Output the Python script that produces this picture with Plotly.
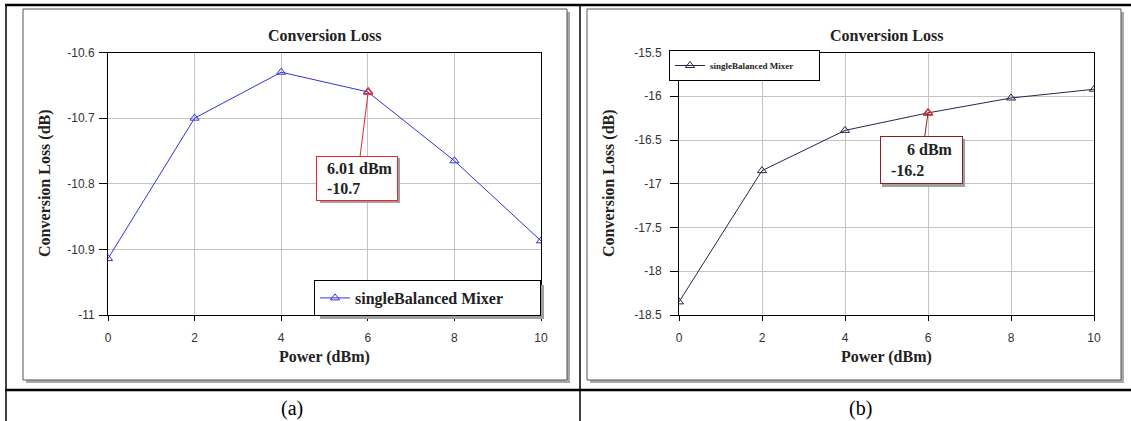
import plotly.graph_objects as go

W, H = 1131, 421

# ---------------- data ----------------
power_dbm = [0, 2, 4, 6, 8, 10]
loss_a = [-10.914, -10.700, -10.630, -10.660, -10.765, -10.887]
loss_b = [-18.35, -16.85, -16.39, -16.19, -16.02, -15.92]

series_name = "singleBalanced Mixer"

marker_a_x = [6.01]
marker_a_y = [-10.66]
marker_a_text = "\u00a0\u00a06.01 dBm<br>\u00a0\u00a0-10.7"
marker_b_x = [6]
marker_b_y = [-16.19]
marker_b_text = "\u00a0\u00a0\u00a0\u00a0\u00a0\u00a06 dBm<br>\u00a0\u00a0-16.2"

x_tick_vals = [0, 2, 4, 6, 8, 10]
x_tick_text = ["0", "2", "4", "6", "8", "10"]
y_a_tick_vals = [-11.0, -10.9, -10.8, -10.7, -10.6]
y_a_tick_text = ["-11", "-10.9", "-10.8", "-10.7", "-10.6"]
y_b_tick_vals = [-18.5, -18.0, -17.5, -17.0, -16.5, -16.0, -15.5]
y_b_tick_text = ["-18.5", "-18", "-17.5", "-17", "-16.5", "-16", "-15.5"]

chart_title = "Conversion Loss"
x_title = "Power (dBm)"
y_title = "Conversion Loss (dB)"
captions = ["(a)", "(b)"]

# ---------------- helpers ----------------
def px(x):
    return x / W

def py(y):
    return 1 - y / H

SERIF = "Liberation Serif"
SANS = "Liberation Sans"
BLUE = "#3232dc"
NAVY = "#26264e"
RED = "#e0282c"
DARKRED = "#8a1f22"
NB = "\u00a0"

fig = go.Figure()

fig.add_trace(go.Scatter(
    x=power_dbm, y=loss_a, mode="lines+markers", name=series_name + NB * 8,
    line=dict(color=BLUE, width=1),
    marker=dict(symbol="triangle-up-open", size=8, color=BLUE, line=dict(width=1)),
    xaxis="x", yaxis="y", legend="legend",
))
fig.add_trace(go.Scatter(
    x=marker_a_x, y=marker_a_y, mode="markers", showlegend=False,
    marker=dict(symbol="triangle-up-open", size=8, color=RED, line=dict(width=1.5)),
    xaxis="x", yaxis="y",
))
fig.add_trace(go.Scatter(
    x=power_dbm, y=loss_b, mode="lines+markers", name=series_name + NB * 9,
    line=dict(color=NAVY, width=1),
    marker=dict(symbol="triangle-up-open", size=8, color=NAVY, line=dict(width=1)),
    xaxis="x2", yaxis="y2", legend="legend2",
))
fig.add_trace(go.Scatter(
    x=marker_b_x, y=marker_b_y, mode="markers", showlegend=False,
    marker=dict(symbol="triangle-up-open", size=8, color=RED, line=dict(width=1.5)),
    xaxis="x2", yaxis="y2",
))

axis_common = dict(
    showline=True, linecolor="black", linewidth=1, mirror=True,
    showgrid=True, gridcolor="#c4c4c4", gridwidth=1,
    ticks="outside", tickcolor="black", zeroline=False, automargin=False,
    tickfont=dict(family=SANS, size=12, color="#333333"),
)

left_dom_x = [px(108), px(541)]
right_dom_x = [px(679), px(1094)]
dom_y = [py(315), py(52.5)]

fig.update_layout(
    width=W, height=H,
    margin=dict(l=0, r=0, t=0, b=0, pad=0, autoexpand=False),
    paper_bgcolor="white", plot_bgcolor="white",
    hovermode=False,
    xaxis=dict(domain=left_dom_x, range=[0, 10], tickvals=x_tick_vals, ticktext=x_tick_text,
               ticklen=5, ticklabelstandoff=7, anchor="y", **axis_common),
    yaxis=dict(domain=dom_y, range=[-11, -10.6], tickvals=y_a_tick_vals, ticktext=y_a_tick_text,
               ticklen=8, ticklabelstandoff=2, anchor="x", **axis_common),
    xaxis2=dict(domain=right_dom_x, range=[0, 10], tickvals=x_tick_vals, ticktext=x_tick_text,
                ticklen=5, ticklabelstandoff=7, anchor="y2", **axis_common),
    yaxis2=dict(domain=dom_y, range=[-18.5, -15.5], tickvals=y_b_tick_vals, ticktext=y_b_tick_text,
                ticklen=8, ticklabelstandoff=6, anchor="x2", **axis_common),
    legend=dict(
        x=px(541), y=py(316), xanchor="right", yanchor="bottom",
        bgcolor="white", bordercolor="black", borderwidth=1,
        font=dict(family=SERIF, size=16, color="#222222", weight="bold"),
    ),
    legend2=dict(
        x=px(669), y=py(50), xanchor="left", yanchor="top",
        bgcolor="white", bordercolor="black", borderwidth=1,
        font=dict(family=SERIF, size=9, color="#222222", weight="bold"),
    ),
)

shapes = []
# chart frames with drop shadow
for (x0, x1) in [(23, 567), (587, 1121)]:
    shapes.append(dict(type="rect", xref="paper", yref="paper", layer="below",
                       x0=px(x0 + 3), x1=px(x1 + 3), y0=py(380 + 3), y1=py(9 + 3),
                       fillcolor="#a8a8a8", line=dict(width=0)))
    shapes.append(dict(type="rect", xref="paper", yref="paper", layer="below",
                       x0=px(x0), x1=px(x1), y0=py(380), y1=py(9),
                       fillcolor="white", line=dict(color="#555555", width=1)))

# drop shadows for the legend boxes and the marker read-out boxes
for (x0, y0, x1, y1) in [(317, 282, 541, 316), (669, 50, 817, 78),
                         (317, 155, 397, 200), (879, 136, 962, 184)]:
    shapes.append(dict(type="rect", xref="paper", yref="paper", layer="above",
                       x0=px(x0 + 3), x1=px(x1 + 3), y0=py(y1 + 3), y1=py(y0 + 3),
                       fillcolor="#a0a0a0", line=dict(width=0)))

# table lines
def hline(y, x0, x1, w):
    return dict(type="line", xref="paper", yref="paper", layer="above",
                x0=px(x0), x1=px(x1), y0=py(y), y1=py(y), line=dict(color="black", width=w))

def vline(x, y0, y1, w):
    return dict(type="line", xref="paper", yref="paper", layer="above",
                x0=px(x), x1=px(x), y0=py(y0), y1=py(y1), line=dict(color="black", width=w))

shapes += [
    hline(5, 5, 1131, 2.5),
    hline(390, 5, 1131, 2.5),
    vline(6, 4, 421, 1.5),
    vline(580, 4, 421, 1.5),
]
fig.update_layout(shapes=shapes)

annotations = []
title_font = dict(family=SERIF, size=16, color="#222222", weight="bold")
for cx in [(108 + 541) / 2, (679 + 1094) / 2]:
    annotations.append(dict(text=chart_title, xref="paper", yref="paper", x=px(cx), y=py(36),
                            showarrow=False, font=title_font, xanchor="center", yanchor="middle"))
    annotations.append(dict(text=x_title, xref="paper", yref="paper", x=px(cx), y=py(357),
                            showarrow=False, font=title_font, xanchor="center", yanchor="middle"))
for lx in [45, 609]:
    annotations.append(dict(text=y_title, xref="paper", yref="paper", x=px(lx), y=py(183),
                            showarrow=False, font=title_font, textangle=-90,
                            xanchor="center", yanchor="middle"))
for cap, cx in zip(captions, [292, 860]):
    annotations.append(dict(text=cap, xref="paper", yref="paper", x=px(cx), y=py(408),
                            showarrow=False, font=dict(family=SERIF, size=20, color="black"),
                            xanchor="center", yanchor="middle"))

box_font = dict(family=SERIF, size=16, color="#222222", weight="bold")
annotations.append(dict(
    text=marker_a_text, xref="x", yref="y", x=marker_a_x[0], y=marker_a_y[0],
    showarrow=True, arrowhead=0, arrowwidth=1, arrowcolor=RED, ax=-11, ay=87,
    bordercolor=RED, borderwidth=1, borderpad=2, bgcolor="white",
    width=76, height=39, align="left", valign="middle", font=box_font,
))
annotations.append(dict(
    text=marker_b_text, xref="x2", yref="y2", x=marker_b_x[0], y=marker_b_y[0],
    showarrow=True, arrowhead=0, arrowwidth=1, arrowcolor=DARKRED, ax=-6.5, ay=47.5,
    bordercolor=DARKRED, borderwidth=1, borderpad=2, bgcolor="white",
    width=77, height=42, align="left", valign="middle", font=box_font,
))
fig.update_layout(annotations=annotations)

fig.write_html(
    "out.html",
    config={"displayModeBar": False, "staticPlot": True},
    post_script=(
        "var de=document.documentElement, b=document.body;"
        "de.style.margin='0';de.style.padding='0';de.style.overflow='hidden';"
        "b.style.margin='0';b.style.padding='0';b.style.overflow='hidden';"
    ),
)
